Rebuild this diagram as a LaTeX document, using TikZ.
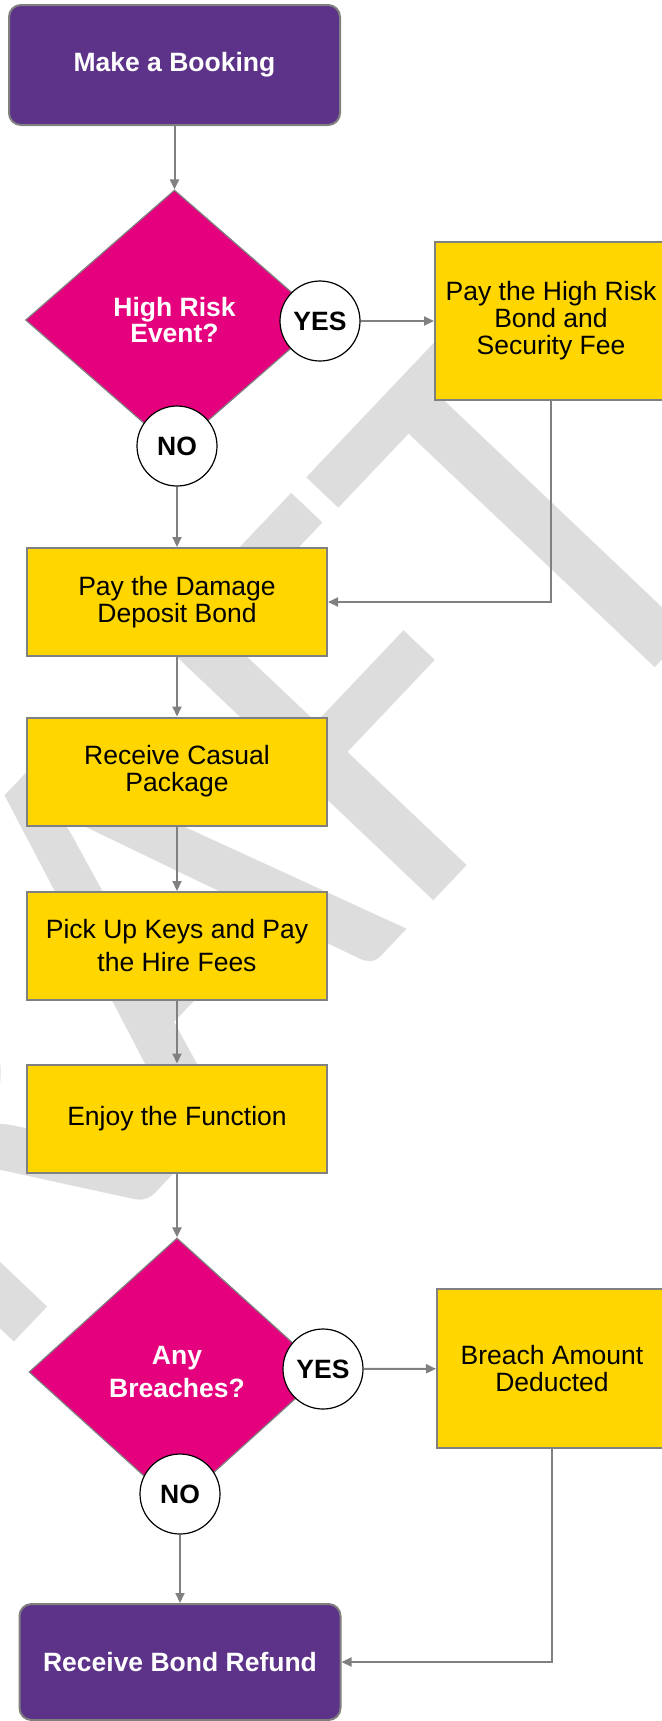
\documentclass[tikz,border=0pt]{standalone}
\usepackage{fontspec}
\setmainfont{Liberation Sans}
\newfontfamily\markfont[Kerning=Off]{Carlito}
\usetikzlibrary{shapes.geometric, arrows.meta}
\definecolor{bookpurple}{RGB}{92,51,137}
\definecolor{riskpink}{RGB}{229,0,125}
\definecolor{stepgold}{RGB}{255,214,0}
\definecolor{linegray}{RGB}{128,128,128}
\definecolor{markgray}{RGB}{221,221,221}
\tikzset{>={Triangle[length=5pt,width=4.5pt]}}
\tikzset{
  endbox/.style={rectangle, rounded corners=6pt, draw=linegray, line width=1pt, fill=bookpurple, text=white, font=\bfseries\fontsize{13.25}{13.25}\selectfont, minimum height=60pt},
  stepbox/.style={rectangle, draw=linegray, line width=1pt, fill=stepgold, align=center, font=\fontsize{13.25}{13.5}\selectfont, minimum width=150pt, minimum height=54pt},
  askbox/.style={diamond, draw=linegray, line width=0.6pt, fill=riskpink, text=white, align=center, font=\bfseries\fontsize{13.25}{13.25}\selectfont, minimum width=148pt, minimum height=130pt, inner sep=0pt},
  answer/.style={circle, draw=black, line width=0.6pt, fill=white, font=\bfseries\fontsize{13.25}{13.25}\selectfont, minimum size=40pt, inner sep=0pt},
  flow/.style={draw=linegray, line width=1pt, ->}
}

\begin{document}
\begin{tikzpicture}[x=0.5pt, y=-0.5pt]
    \useasboundingbox (0,0) rectangle (662,1721);
    \clip (0,0) rectangle (662,1721);
    \node[text=markgray, rotate=46.5, xscale=0.911, anchor=base west, inner sep=0pt, font=\markfont\fontsize{299}{299}\selectfont] (mark) at (-243,1614) {DRAFT};
    \node[endbox, minimum width=165.5pt] (book) at (174.5,65) {Make a Booking};
    \node[askbox, minimum width=149pt] (risk) at (174.5,320) {High Risk\\Event?};
    \node[answer] (yes1) at (320,321) {YES};
    \node[answer] (no1) at (177,446) {NO};
    \node[stepbox, minimum width=116pt, minimum height=79pt] (highbond) at (551,321) {Pay the High Risk\\Bond and\\Security Fee};
    \node[stepbox] (deposit) at (177,602) {Pay the Damage\\Deposit Bond};
    \node[stepbox] (casual) at (177,771.5) {Receive Casual\\Package};
    \node[stepbox, font=\fontsize{13.25}{16.5}\selectfont] (keys) at (177,946) {Pick Up Keys and Pay\\the Hire Fees};
    \node[stepbox] (enjoy) at (177,1118.5) {Enjoy the Function};
    \node[askbox, minimum height=134pt, font=\bfseries\fontsize{13.25}{16.5}\selectfont] (breaches) at (177,1372) {Any\\Breaches?};
    \node[answer] (yes2) at (323,1369) {YES};
    \node[answer] (no2) at (180,1494) {NO};
    \node[stepbox, minimum width=115pt, minimum height=79.5pt] (breach) at (552,1368.5) {Breach Amount\\Deducted};
    \node[endbox, minimum width=160.5pt, minimum height=58pt] (refund) at (180,1662) {Receive Bond Refund};
    \draw[flow] (book) -- (risk);
    \draw[flow] (yes1) -- (highbond);
    \draw[flow] (no1) -- (deposit);
    \draw[flow] (highbond.south) |- (deposit.east);
    \draw[flow] (deposit) -- (casual);
    \draw[flow] (casual) -- (keys);
    \draw[flow] (keys) -- (enjoy);
    \draw[flow] (enjoy) -- (breaches);
    \draw[flow] (yes2) -- (breach);
    \draw[flow] (no2) -- (refund);
    \draw[flow] (breach.south) |- (refund.east);
\end{tikzpicture}
\end{document}
